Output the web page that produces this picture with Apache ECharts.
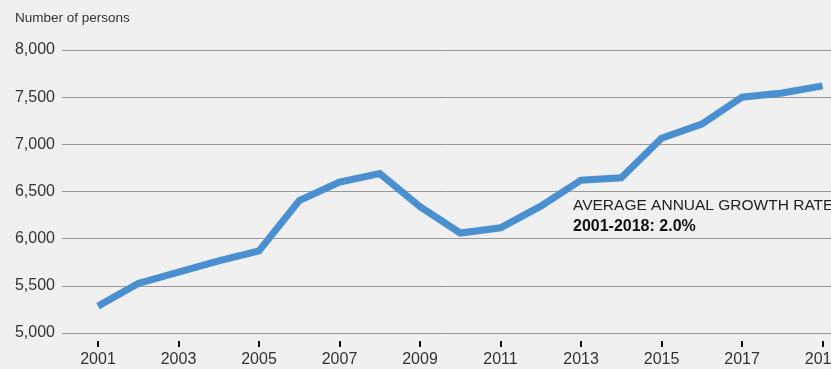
<!DOCTYPE html>
<html>
<head>
<meta charset="utf-8">
<script src="https://cdn.jsdelivr.net/npm/echarts@6/dist/echarts.min.js"></script>
<style>
  html, body { margin: 0; padding: 0; background: #f0f0f0; }
  #chart { width: 831px; height: 369px; }
</style>
</head>
<body>
<div id="chart"></div>
<script>
// Persons per year
const years = [2001, 2002, 2003, 2004, 2005, 2006, 2007, 2008, 2009, 2010,
               2011, 2012, 2013, 2014, 2015, 2016, 2017, 2018, 2019];
const persons = [5285, 5525, 5645, 5765, 5870, 6405, 6600, 6690, 6340, 6060,
                 6115, 6345, 6620, 6645, 7065, 7215, 7500, 7545, 7620];
const yearTicks = [2001, 2003, 2005, 2007, 2009, 2011, 2013, 2015, 2017, 2019];
const annotation = ['AVERAGE ANNUAL GROWTH RATE', '2001-2018: 2.0%'];
const yTitle = 'Number of persons';

const font = '"Liberation Sans", Arial, Helvetica, sans-serif';
const chart = echarts.init(document.getElementById('chart'));

chart.setOption({
  backgroundColor: '#f0f0f0',
  animation: false,
  grid: { left: 62, right: 0, top: 50, bottom: 36, outerBoundsMode: 'none', containLabel: false },
  xAxis: {
    type: 'value',
    min: 2000.106,
    max: 2019.21,
    offset: 8,
    axisLine: { show: false },
    splitLine: { show: false },
    axisTick: {
      show: true, customValues: yearTicks, length: 6,
      lineStyle: { color: '#111', width: 2 }
    },
    axisLabel: {
      customValues: yearTicks, margin: 11,
      color: '#333', fontSize: 16, fontFamily: font,
      hideOverlap: false,
      formatter: v => String(v)
    }
  },
  yAxis: {
    type: 'value',
    min: 5000, max: 8000, interval: 500,
    axisLine: { show: false },
    axisTick: { show: false },
    splitLine: { lineStyle: { color: '#999', width: 1 } },
    axisLabel: {
      margin: 7, color: '#333', fontSize: 16, fontFamily: font,
      formatter: v => v.toLocaleString('en-US')
    }
  },
  series: [{
    type: 'line',
    data: years.map((y, i) => [y, persons[i]]),
    showSymbol: false,
    clip: false,
    lineStyle: { color: '#4a8fd0', width: 7, cap: 'butt', join: 'miter' },
    itemStyle: { color: '#4a8fd0' },
    z: 3
  }],
  graphic: [
    {
      type: 'text', left: 573, top: 198,
      style: { text: annotation[0], fill: '#222', font: '15.5px ' + font }
    },
    {
      type: 'text', left: 573, top: 219,
      style: { text: annotation[1], fill: '#111', font: 'bold 16px ' + font }
    },
    {
      type: 'text', left: 15, top: 11,
      style: { text: yTitle, fill: '#333', font: '13.5px ' + font }
    }
  ]
});
</script>
</body>
</html>
